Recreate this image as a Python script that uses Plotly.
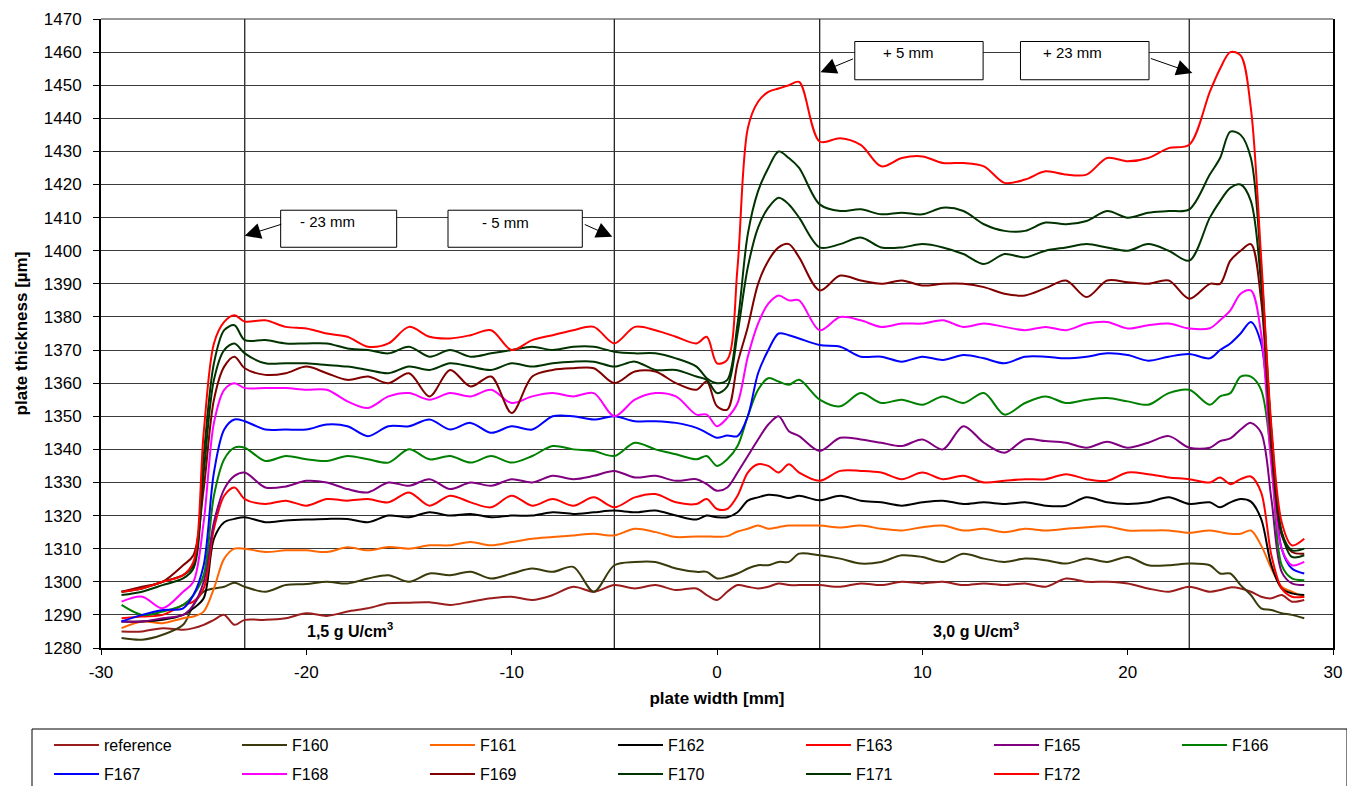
import plotly.graph_objects as go

# shared x positions (mm)
X = [-29, -28, -27, -26, -25.5, -25, -24.5, -24, -23.5, -23,
     -22, -21, -20, -19, -18, -17, -16, -15, -14, -13, -12, -11, -10, -9, -8, -7, -6, -5, -4, -3, -2, -1,
     -0.5, 0, 0.5, 1, 1.5, 2, 2.5, 3, 3.5, 4,
     5, 6, 7, 8, 9, 10, 11, 12, 13, 14, 15, 16, 17, 18, 19, 20, 21, 22, 23,
     24, 24.5, 25, 25.5, 26, 26.5, 27, 27.5, 28, 28.6]

REFERENCE = [1285, 1285, 1286, 1285.5, 1286, 1287, 1288.5, 1290, 1287, 1288.5,
             1288.5, 1289, 1290.5, 1289.7, 1291, 1292, 1293.5, 1293.7, 1293.8, 1293, 1294, 1295, 1295.5, 1294.5, 1296, 1298.5, 1297, 1299, 1298, 1299, 1297.5, 1298,
             1296, 1294.5, 1297, 1299, 1298.5, 1298, 1298.5, 1299.5, 1299, 1299,
             1299, 1298.5, 1299.5, 1299, 1300, 1299.5, 1300, 1299, 1299.5, 1299, 1299.5, 1298.5, 1301, 1300, 1300, 1299.5, 1298, 1297, 1298.5,
             1297, 1297.5, 1298.3, 1298, 1297, 1295.5, 1295, 1296, 1294, 1294.5]
F160 = [1283, 1282.5, 1284, 1287, 1293, 1297, 1298, 1298.5, 1299.7, 1298.5,
        1297, 1299, 1299.3, 1300, 1299.5, 1301, 1302, 1300, 1302.5, 1302, 1303, 1301, 1302.5, 1304, 1303, 1304.5, 1297, 1305, 1306, 1306, 1304, 1303,
        1303, 1301, 1301.5, 1302.5, 1304, 1305, 1305, 1306, 1306, 1308.5,
        1308, 1307, 1305.5, 1306, 1308, 1307.5, 1306, 1308.5, 1307, 1306, 1307, 1306.5, 1305.5, 1307, 1306, 1307.5, 1305, 1305, 1305.5,
        1305, 1302.5, 1302.5, 1299, 1296, 1292, 1291.5, 1290.5, 1290, 1289]
F161 = [1286, 1288, 1287.5, 1289, 1289.5, 1291, 1298, 1307, 1310, 1310,
        1309, 1309.5, 1309.5, 1309, 1310.4, 1309.5, 1310.5, 1310, 1311, 1311, 1312, 1311, 1312, 1313, 1313.5, 1314, 1314.5, 1314, 1316, 1315, 1313.5, 1313.7,
        1313.7, 1313.6, 1313.8, 1315.2, 1316, 1317, 1316, 1316.5, 1317, 1317,
        1317, 1316.4, 1317, 1316, 1315.5, 1316.5, 1317, 1315.5, 1316, 1315, 1316, 1315.5, 1316, 1316.5, 1316.7, 1315.5, 1315.5, 1315.5, 1314.8,
        1315.5, 1315, 1314.5, 1314.5, 1315.5, 1311, 1304, 1298.5, 1297, 1295.3]
F162 = [1288, 1288, 1288.5, 1290, 1292, 1295, 1313, 1318, 1319, 1319.5,
        1318, 1318.5, 1318.8, 1319, 1319, 1318, 1320, 1319.5, 1321, 1320, 1320.5, 1319.5, 1320, 1320, 1321, 1320.5, 1321, 1321.5, 1321, 1321.5, 1320, 1318.8,
        1320, 1319.5, 1319.5, 1321, 1324.5, 1325.5, 1326.3, 1326, 1325.3, 1326,
        1324.6, 1326, 1324.5, 1324, 1323, 1324, 1324.5, 1323.5, 1324, 1323.5, 1324, 1323, 1323, 1325.5, 1324, 1323.5, 1324, 1325.5, 1323.5,
        1324, 1322.5, 1324, 1325, 1324.2, 1319, 1305, 1298, 1296.5, 1296]
F163 = [1289, 1289.5, 1290, 1293, 1294, 1298, 1316, 1326, 1328.5, 1325,
        1323.5, 1324.5, 1323, 1325, 1324.5, 1325, 1324, 1327, 1323, 1326, 1324, 1322.5, 1326, 1323, 1325, 1323, 1325.5, 1322.5, 1325.5, 1326.5, 1324, 1323.5,
        1325, 1322, 1322, 1326, 1333, 1335.5, 1335, 1333, 1335.5, 1333,
        1330.5, 1333.5, 1333.5, 1333, 1331, 1333, 1331, 1332, 1330, 1330.5, 1331, 1331, 1332.5, 1331, 1330.5, 1333, 1332.5, 1331.5, 1331,
        1330, 1331.5, 1329.5, 1331, 1331.8, 1327, 1308, 1298, 1295.5, 1295.5]
F165 = [1288, 1288, 1289, 1290, 1293, 1300, 1318, 1328, 1332, 1333,
        1328.5, 1328.8, 1330.5, 1330, 1328, 1327, 1330, 1329, 1331, 1328, 1330, 1329, 1331, 1330, 1332, 1331, 1332, 1333.5, 1331.5, 1332, 1330.5, 1331,
        1329.5, 1327.5, 1328.5, 1333, 1338, 1343, 1347.5, 1350, 1345.5, 1344,
        1339.5, 1343.5, 1343, 1342, 1341, 1343, 1340, 1347, 1342, 1339, 1343, 1342.5, 1342, 1340.5, 1342.3, 1340.5, 1342, 1344, 1340.5,
        1340.5, 1342.5, 1343.3, 1346, 1348, 1345, 1325, 1303, 1299.5, 1299]
F166 = [1293, 1290, 1291, 1293, 1296, 1302, 1326, 1337, 1340.5, 1340.5,
        1336.5, 1338, 1337, 1336.5, 1338, 1337, 1336, 1340, 1337, 1338, 1336, 1338, 1336, 1338, 1341, 1340, 1339.5, 1338, 1342, 1340, 1338.5, 1337,
        1338, 1335, 1337, 1341, 1350, 1358, 1361.5, 1360.5, 1359.5, 1361,
        1355, 1353, 1357, 1354, 1355, 1353.5, 1356, 1354, 1357, 1350.5, 1354, 1356, 1354, 1355, 1355.5, 1354.5, 1353.5, 1357, 1358,
        1353.5, 1356, 1357, 1362, 1362, 1358, 1337, 1305, 1301, 1300.5]
F167 = [1288, 1290, 1291.5, 1292, 1296, 1305, 1333, 1346, 1349, 1348.5,
        1346, 1346, 1346, 1347.5, 1347, 1344, 1347, 1347, 1349, 1346, 1348, 1345, 1347, 1346, 1350, 1350, 1349, 1350, 1348.5, 1348.5, 1348, 1346.5,
        1345, 1343.5, 1344.2, 1344, 1350, 1363, 1370, 1375, 1374.5, 1373.5,
        1371.5, 1371, 1368, 1368, 1366.5, 1368, 1367, 1368.5, 1367.5, 1366, 1368, 1368, 1367.5, 1368, 1369, 1368.5, 1366.8, 1368, 1368.8,
        1367.5, 1370, 1372, 1375, 1378.5, 1372, 1340, 1310, 1304, 1302.5]
F168 = [1294, 1295.5, 1292, 1297, 1300, 1318, 1348, 1358, 1360, 1358.5,
        1358.5, 1358.5, 1358, 1358, 1354.5, 1352.5, 1356, 1357, 1355, 1357, 1356, 1358, 1354, 1356, 1357, 1356, 1357, 1350, 1355, 1357, 1356, 1350.5,
        1350.5, 1347, 1349.5, 1354, 1368, 1378, 1384, 1386.5, 1385, 1385,
        1376, 1380, 1379, 1377, 1378, 1378, 1379, 1377, 1378, 1377, 1376, 1377, 1376, 1378, 1378.5, 1376.5, 1377.5, 1378, 1376.5,
        1376.6, 1379, 1382, 1387, 1388, 1375, 1335, 1310, 1305, 1306]
F169 = [1297, 1298.5, 1300, 1305, 1308, 1328, 1355, 1365, 1368, 1364.5,
        1362.5, 1363, 1365, 1363, 1361, 1362, 1360, 1363, 1356, 1364, 1359, 1362, 1351, 1362, 1364, 1364.5, 1364.5, 1360, 1363.5, 1363.5, 1360, 1358,
        1360.5, 1353, 1352, 1366, 1377, 1390, 1397, 1401, 1402, 1398,
        1388, 1392.5, 1391, 1390, 1391, 1389.5, 1390, 1390, 1389, 1387, 1386.5, 1388.7, 1391, 1386, 1391, 1390.5, 1390, 1391, 1385.5,
        1390, 1390, 1397, 1400, 1402, 1385, 1340, 1314, 1309, 1308.5]
F170 = [1296, 1297, 1299, 1301, 1304, 1333, 1361, 1370, 1372, 1369,
        1366, 1366, 1366, 1365.5, 1365, 1364, 1363, 1365, 1364, 1366, 1365, 1364, 1366, 1365, 1366, 1366.5, 1366.5, 1365, 1366.5, 1364, 1364, 1362,
        1361, 1357, 1359, 1375, 1395, 1407, 1413, 1416, 1414, 1410,
        1401, 1402, 1404, 1401, 1401, 1402, 1401, 1399, 1396, 1399, 1398, 1400, 1401, 1402, 1401, 1400, 1402, 1400, 1397,
        1410, 1415, 1419, 1420, 1415, 1390, 1345, 1315, 1307.5, 1308]
F171 = [1297, 1298, 1300, 1302, 1305, 1338, 1366, 1376, 1377.5, 1373,
        1373, 1372, 1372, 1372, 1370.5, 1370, 1369, 1371, 1368, 1370, 1368, 1369, 1370, 1371, 1370, 1371, 1371, 1369.5, 1369, 1369, 1367.5, 1365,
        1361.5, 1360, 1361, 1378, 1405, 1418, 1425, 1430, 1428, 1425,
        1414, 1412, 1412.5, 1411, 1411.5, 1411, 1413, 1412, 1408, 1406, 1406, 1408.5, 1408, 1409, 1412, 1410, 1411.5, 1412, 1412.5,
        1423, 1428, 1436, 1435, 1428, 1395, 1345, 1315, 1309.5, 1310]
F172 = [1297, 1298, 1300, 1302, 1306, 1345, 1372, 1378.5, 1380.5, 1378.6,
        1379, 1377, 1376.5, 1375, 1374, 1371, 1372, 1377, 1374, 1373.5, 1374.5, 1376, 1370, 1373, 1374.5, 1376, 1377, 1372, 1377, 1376, 1374, 1372,
        1374, 1366, 1367, 1395, 1437, 1445, 1448, 1449, 1450, 1451,
        1433, 1434, 1432, 1425.5, 1428, 1428.5, 1426.5, 1426.5, 1425.5, 1420.5, 1421.5, 1424, 1423, 1423, 1428, 1427, 1428, 1431, 1432,
        1448, 1455, 1460, 1459, 1443, 1398, 1347, 1318, 1311, 1313]

NAMES = ["reference", "F160", "F161", "F162", "F163", "F165", "F166",
         "F167", "F168", "F169", "F170", "F171", "F172"]
VALUES = [REFERENCE, F160, F161, F162, F163, F165, F166,
          F167, F168, F169, F170, F171, F172]
COLORS = ["#9a1c1c", "#3a3a0c", "#ff6600", "#000000", "#ff0000", "#800080", "#008000",
          "#0000ff", "#ff00ff", "#800000", "#003300", "#003300", "#ff0000"]

X_TICKS = [-30, -20, -10, 0, 10, 20, 30]
X_TICK_TEXT = ["-30", "-20", "-10", "0", "10", "20", "30"]

FONT = "Liberation Sans, Arial, sans-serif"
# page has an 8px body margin: figure is drawn from (8, 8)
W, H = 1347, 778
ML, MT, PW, PH = 93, 11, 1232, 629
PB = MT + PH  # plot bottom in figure px


def px_to_paper_x(page_x):
    return (page_x - 8 - ML) / PW


def px_to_paper_y(page_y):
    return (PB - (page_y - 8)) / PH


fig = go.Figure()
for i, (name, vals, col) in enumerate(zip(NAMES, VALUES, COLORS)):
    fig.add_trace(go.Scatter(
        x=X, y=vals, name=name, mode="lines",
        line=dict(color=col, width=2, shape="spline", smoothing=0.9),
        legend="legend" if i < 7 else "legend2",
        hoverinfo="skip",
    ))

shapes = []
for xv in [-23, -5, 5, 23]:
    shapes.append(dict(type="line", xref="x", yref="y", x0=xv, x1=xv, y0=1280, y1=1470,
                       line=dict(color="#222222", width=1.3), layer="below"))
# top border
shapes.append(dict(type="line", xref="paper", yref="paper", x0=0, x1=1, y0=1, y1=1,
                   line=dict(color="#333333", width=1)))
# annotation boxes
boxes = [(-21.25, -15.6, 1401.05, 1412.24), (-13.1, -6.56, 1401.05, 1412.24),
         (6.71, 12.96, 1451.65, 1463.2), (14.78, 21.04, 1451.65, 1463.2)]
for x0, x1, y0, y1 in boxes:
    shapes.append(dict(type="rect", xref="x", yref="y", x0=x0, x1=x1, y0=y0, y1=y1,
                       line=dict(color="black", width=1), fillcolor="white", layer="above"))
# legend frame
shapes.append(dict(type="rect", xref="paper", yref="paper",
                   x0=px_to_paper_x(32), x1=px_to_paper_x(1347),
                   y0=px_to_paper_y(800), y1=px_to_paper_y(729),
                   line=dict(color="black", width=1), fillcolor="rgba(0,0,0,0)"))

annotations = []
labels = [("- 23 mm", -20.43, 1408.7), ("- 5 mm", -11.55, 1408.6),
          ("+ 5 mm", 8.01, 1459.9), ("+ 23 mm", 15.78, 1459.9)]
for t, xv, yv in labels:
    annotations.append(dict(text=t, x=xv, y=yv, xref="x", yref="y", showarrow=False,
                            xanchor="left", yanchor="middle",
                            font=dict(family=FONT, size=15, color="black")))
arrows = [(-23, 1404.5, 38, -12), (-5.1, 1404.2, -29, -13),
          (5.04, 1453.9, 34, -14), (23.15, 1453.7, -43, -15)]
for xv, yv, ax, ay in arrows:
    annotations.append(dict(text="", x=xv, y=yv, xref="x", yref="y", ax=ax, ay=ay,
                            showarrow=True, arrowhead=2, arrowsize=3.2, arrowwidth=1,
                            arrowcolor="black", standoff=0, startstandoff=0))
annotations.append(dict(text="<b>1,5 g U/cm<sup>3</sup></b>", x=-17.85, y=1285.4, xref="x", yref="y",
                        showarrow=False, font=dict(family=FONT, size=16, color="black")))
annotations.append(dict(text="<b>3,0 g U/cm<sup>3</sup></b>", x=12.6, y=1285.4, xref="x", yref="y",
                        showarrow=False, font=dict(family=FONT, size=16, color="black")))

legend_common = dict(orientation="h", xanchor="left", yanchor="middle",
                     itemwidth=45, entrywidth=128, entrywidthmode="pixels",
                     font=dict(family=FONT, size=16), bgcolor="rgba(0,0,0,0)", borderwidth=0)

fig.update_layout(
    width=W, height=H,
    margin=dict(l=ML, r=W - ML - PW, t=MT, b=H - MT - PH, autoexpand=False),
    paper_bgcolor="white", plot_bgcolor="white",
    font=dict(family=FONT, size=17, color="black"),
    showlegend=True,
    shapes=shapes, annotations=annotations,
    legend=dict(x=px_to_paper_x(49), y=px_to_paper_y(745), **legend_common),
    legend2=dict(x=px_to_paper_x(49), y=px_to_paper_y(774), **legend_common),
    xaxis=dict(range=[-30, 30], tickvals=X_TICKS, ticktext=X_TICK_TEXT, showgrid=False,
               zeroline=False, automargin=False,
               showline=True, linecolor="black", linewidth=2,
               ticks="outside", ticklen=5, tickcolor="black", tickwidth=1,
               tickfont=dict(size=17), ticklabelstandoff=3,
               title=dict(text="<b>plate width [mm]</b>", font=dict(size=17), standoff=11)),
    yaxis=dict(range=[1280, 1470], dtick=10, tick0=1280, showgrid=True, gridcolor="#3a3a3a",
               gridwidth=1, zeroline=False, automargin=False,
               showline=True, linecolor="black", linewidth=2,
               mirror=True, ticks="outside", ticklen=6, tickcolor="black",
               tickfont=dict(size=17), ticklabelstandoff=8,
               title=dict(text="<b>plate thickness [µm]</b>", font=dict(size=17), standoff=12)),
)

fig.write_html("out.html")
